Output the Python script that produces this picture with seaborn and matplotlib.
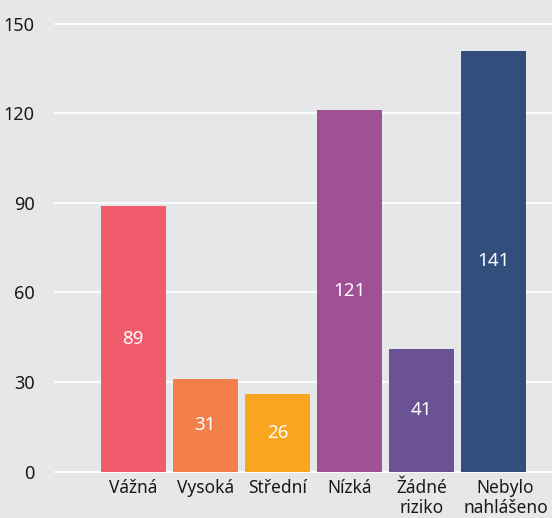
import matplotlib
matplotlib.use('Agg')
import matplotlib.pyplot as plt
import matplotlib.transforms as mtransforms
import seaborn as sns
import pandas as pd

# Data.

categories = ['Vážná', 'Vysoká', 'Střední', 'Nízká', 'Žádné\nriziko', 'Nebylo\nnahlášeno']
values = [89, 31, 26, 121, 41, 141]
colors = ['#F05C6B', '#F37F4B', '#F9A61E', '#A05195', '#6A5294', '#324E7D']
yticks = [0, 30, 60, 90, 120, 150]

df = pd.DataFrame({'category': categories, 'value': values})

bg = '#E6E7E9'
sns.set_style('whitegrid', {'axes.facecolor': bg, 'figure.facecolor': bg,
                            'grid.color': 'white'})
plt.rcParams['font.family'] = ['Noto Sans', 'DejaVu Sans']

fig = plt.figure(figsize=(5.52, 5.18), dpi=100)
ax = fig.add_axes([54 / 552, 1 - 476 / 518, 1 - 54 / 552, 476 / 518])

sns.barplot(data=df, x='category', y='value', hue='category',
            palette=colors, width=0.9, legend=False, saturation=1,
            linewidth=0, ax=ax)

for c in ax.containers:
    ax.bar_label(c, label_type='center', color='white', fontsize=13.5)

ax.set_xlim(-1.1, 5.81)
ax.set_ylim(-1.5, 158)
ax.set_yticks(yticks)
ax.grid(axis='y', color='white', linewidth=1.3)
ax.grid(axis='x', visible=False)
ax.set_axisbelow(True)
for s in ax.spines.values():
    s.set_visible(False)
ax.tick_params(axis='y', length=0, pad=14, labelsize=13, labelcolor='#1a1a1a')
ax.tick_params(axis='x', length=0, pad=2, labelsize=12.5, labelcolor='#1a1a1a')
for lab in ax.get_xticklabels():
    lab.set_linespacing(1.15)
# last label sits a bit right of its bar in the original
last = ax.get_xticklabels()[-1]
last.set_transform(last.get_transform() +
                   mtransforms.ScaledTranslation(0.12, 0, fig.dpi_scale_trans))
ax.set_xlabel('')
ax.set_ylabel('')

fig.savefig('out.png', dpi=100, facecolor=bg)
